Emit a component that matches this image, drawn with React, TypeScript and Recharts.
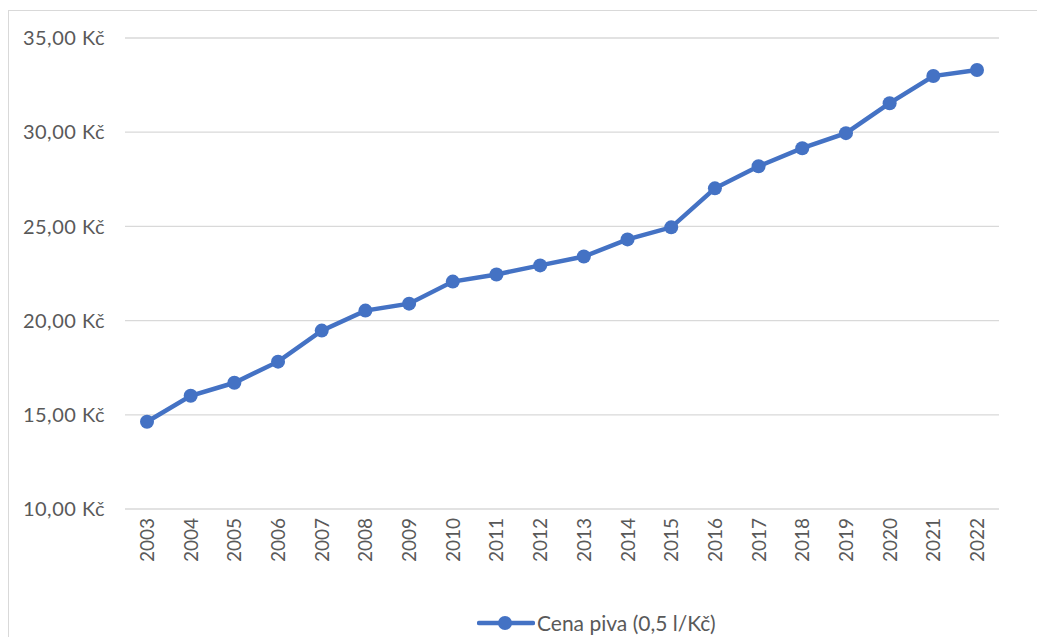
import React from "react";
import { LineChart, Line, XAxis, YAxis, CartesianGrid, Legend } from "recharts";

const years = [
  "2003", "2004", "2005", "2006", "2007", "2008", "2009", "2010", "2011", "2012",
  "2013", "2014", "2015", "2016", "2017", "2018", "2019", "2020", "2021", "2022",
];

const prices = [
  14.63, 16.01, 16.7, 17.82, 19.47, 20.53, 20.9, 22.07, 22.45, 22.93,
  23.4, 24.31, 24.95, 27.02, 28.19, 29.15, 29.95, 31.54, 32.98, 33.3,
];

const yTicks = [10, 15, 20, 25, 30, 35];

const seriesName = "Cena piva (0,5 l/Kč)";
const BLUE = "#4472C4";
const TEXT = "#595959";
const FONT = "Lato, 'Open Sans', sans-serif";

const data = years.map((y, i) => ({ year: y, price: prices[i] }));

const fmt = (v: number) => v.toFixed(2).replace(".", ",") + " Kč";

function LegendContent() {
  return (
    <div style={{ display: "flex", alignItems: "center", fontFamily: FONT, fontSize: 21, color: TEXT }}>
      <svg width={58} height={22} style={{ marginRight: 2 }}>
        <line x1={2} y1={11} x2={56} y2={11} stroke={BLUE} strokeWidth={4.5} strokeLinecap="round" />
        <circle cx={28} cy={11} r={7} fill={BLUE} />
      </svg>
      <span>{seriesName}</span>
    </div>
  );
}

export default function App() {
  return (
    <div
      style={{
        marginTop: 2,
        width: 1100,
        height: 700,
        borderLeft: "1px solid #d9d9d9",
        borderTop: "1px solid #d9d9d9",
        background: "#fff",
      }}
    >
      <LineChart width={1036} height={626} data={data} margin={{ top: 27, right: 46, bottom: 0, left: 0 }}>
        <CartesianGrid vertical={false} stroke="#d9d9d9" strokeWidth={1.3} />
        <XAxis
          dataKey="year"
          padding={{ left: 22, right: 22 }}
          axisLine={false}
          tickLine={false}
          interval={0}
          height={103}
          tick={(props: any) => (
            <text
              x={props.x}
              y={props.y}
              transform={`rotate(-90, ${props.x}, ${props.y + 1})`}
              textAnchor="end"
              fill={TEXT}
              fontSize={19}
              fontFamily={FONT}
            >
              <tspan x={props.x} y={props.y + 1} dy={7}>{props.payload.value}</tspan>
            </text>
          )}
        />
        <YAxis
          domain={[10, 35]}
          ticks={yTicks}
          width={116}
          axisLine={false}
          tickLine={false}
          tickMargin={14}
          tickFormatter={fmt}
          tick={{ fill: TEXT, fontSize: 20, fontFamily: FONT, letterSpacing: 0.5 }}
        />
        <Legend
          verticalAlign="bottom"
          content={<LegendContent />}
          wrapperStyle={{ left: 468, width: 320, bottom: 2 }}
        />
        <Line
          name={seriesName}
          dataKey="price"
          stroke={BLUE}
          strokeWidth={4.5}
          dot={{ r: 7, fill: BLUE, stroke: BLUE, strokeWidth: 0 }}
          isAnimationActive={false}
        />
      </LineChart>
    </div>
  );
}
